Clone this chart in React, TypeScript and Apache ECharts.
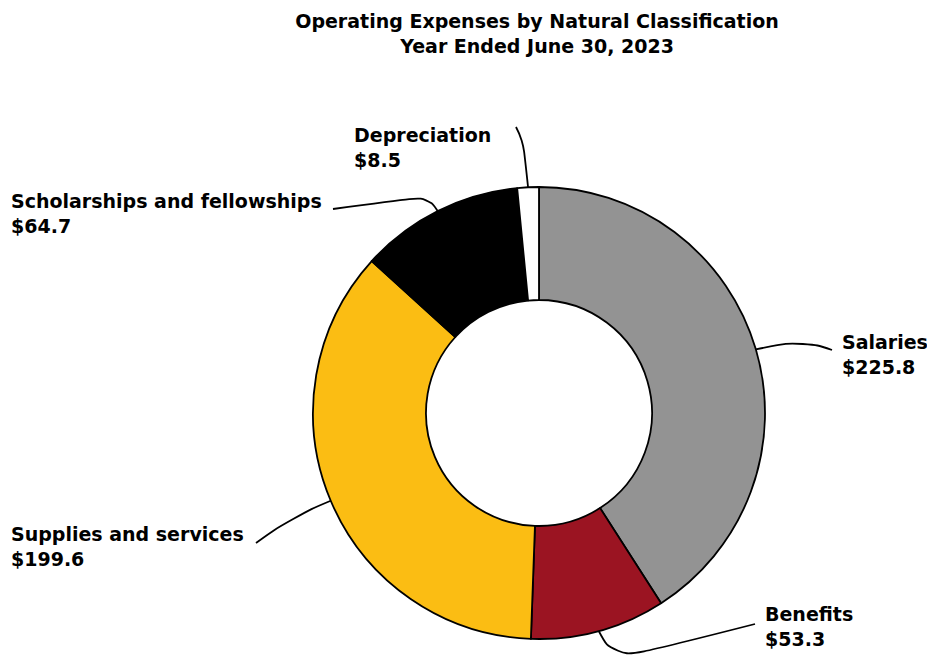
import React, { useEffect, useRef } from "react";
import * as echarts from "echarts";

const titleText = "Operating Expenses by Natural Classification\nYear Ended June 30, 2023";
const categories = [
  "Salaries",
  "Benefits",
  "Supplies and services",
  "Scholarships and fellowships",
  "Depreciation",
];
const values = [225.8, 53.3, 199.6, 64.7, 8.5];
const colors = ["#939393", "#9b1422", "#fbbd13", "#000000", "#ffffff"];

// label layout (positions only): label top-left, leader bend point, leader end point
const labelX = [842, 765, 11, 11, 354];
const labelY = [329, 601, 521, 188, 122];
const bendPts = [
  [803, 340],
  [614, 660],
  [292, 517],
  [428, 196],
  [523, 140],
];
const endPts = [
  [832, 350],
  [755, 624],
  [256, 543],
  [333, 209],
  [516, 127],
];

const FONT = "'DejaVu Sans', sans-serif";

export default function App() {
  const ref = useRef<HTMLDivElement>(null);
  useEffect(() => {
    if (!ref.current) return;
    const chart = echarts.init(ref.current, null, { renderer: "svg" });
    chart.setOption({
      animation: false,
      backgroundColor: "#ffffff",
      title: {
        text: titleText,
        left: 537,
        top: 8,
        padding: 0,
        textAlign: "center",
        textStyle: {
          fontFamily: FONT,
          fontSize: 19,
          fontWeight: "bold",
          lineHeight: 25,
          color: "#000",
        },
      },
      series: [
        {
          type: "pie",
          center: [539, 413],
          radius: [113, 226],
          startAngle: 90,
          clockwise: true,
          avoidLabelOverlap: false,
          itemStyle: { borderColor: "#000", borderWidth: 1.8 },
          label: {
            show: true,
            position: "outside",
            fontFamily: FONT,
            fontSize: 19,
            fontWeight: "bold",
            lineHeight: 25,
            color: "#000",
            formatter: (p: any) => `${p.name}\n$${Number(p.value).toFixed(1)}`,
          },
          labelLine: {
            show: true,
            length: 10,
            length2: 10,
            smooth: 0.5,
            lineStyle: { color: "#000", width: 1.8 },
          },
          labelLayout: (params: any) => {
            const i = params.dataIndex;
            const start = params.labelLinePoints ? params.labelLinePoints[0] : bendPts[i];
            return {
              x: labelX[i],
              y: labelY[i],
              align: "left",
              verticalAlign: "top",
              labelLinePoints: [start, bendPts[i], endPts[i]],
            };
          },
          data: categories.map((name, i) => ({
            name,
            value: values[i],
            itemStyle: { color: colors[i] },
          })),
        },
      ],
    });
    return () => chart.dispose();
  }, []);
  return (
    <div
      ref={ref}
      style={{ position: "absolute", left: 0, top: 0, width: 927, height: 660 }}
    />
  );
}
